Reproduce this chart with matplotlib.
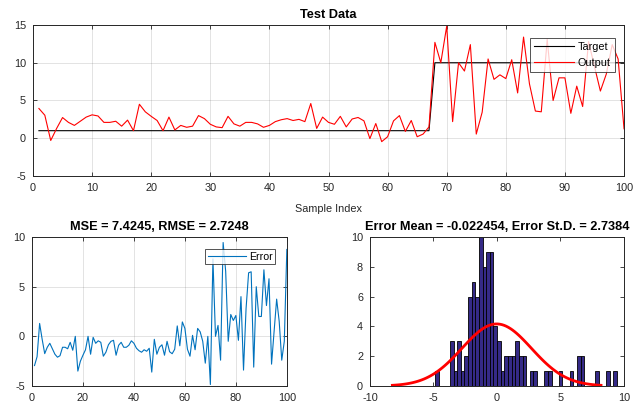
import numpy as np
import matplotlib
matplotlib.use("Agg")
import matplotlib.pyplot as plt

# sample index, network target and output
sample_idx = np.arange(1, 101)
target = [1.0] * 67 + [10.0] * 33
output = [3.94, 3.05, -0.3, 1.3, 2.74, 2.1, 1.7, 2.25, 2.8, 3.1,
          2.95, 2.1, 2.1, 2.25, 1.6, 2.4, 1.0, 4.5, 3.5, 2.9,
          2.35, 1.0, 2.8, 1.1, 1.7, 1.45, 1.6, 3.0, 2.6, 1.85,
          1.5, 1.4, 2.9, 1.9, 1.6, 2.1, 2.1, 1.9, 1.45, 1.7,
          2.2, 2.45, 2.6, 2.35, 2.5, 2.2, 4.6, 1.3, 2.8, 2.1,
          1.85, 2.9, 1.5, 2.55, 2.75, 2.3, -0.05, 1.95, -0.45, 0.2,
          2.3, 3.0, 0.9, 2.35, 0.2, 0.55, 1.5, 12.7, 10.0, 14.85,
          2.2, 10.0, 8.9, 12.4, 0.55, 3.45, 10.5, 7.8, 8.4, 7.9,
          10.4, 6.0, 13.4, 7.2, 3.6, 3.5, 13.1, 5.0, 8.0, 8.0,
          3.3, 6.9, 4.2, 12.8, 9.5, 6.25, 8.5, 12.4, 10.5, 1.25]

# histogram counts (50 bins between min and max error)
hist_counts = [1, 0, 0, 0, 3, 1, 3, 1, 2, 6,
               7, 6, 10, 8, 9, 9, 4, 3, 1, 2,
               2, 2, 3, 2, 2, 0, 1, 1, 0, 0,
               1, 1, 0, 0, 1, 0, 0, 1, 0, 2,
               2, 0, 0, 0, 1, 0, 0, 1, 0, 1]

mse_txt = 'MSE = 7.4245, RMSE = 2.7248'
err_mean = -0.022454
err_std = 2.7384

plt.rcParams['font.family'] = ['Liberation Sans', 'DejaVu Sans']
plt.rcParams['font.size'] = 7.6
plt.rcParams['axes.unicode_minus'] = False

axis_col = '#262626'
blue = (0, 0.447, 0.741)
parula1 = (0.2081, 0.1663, 0.5292)
title_fs = 9.2
tick_fs = 7.8

target = np.array(target)
output = np.array(output)
errors = target - output


def matlab_axes(ax, grid=True):
    if grid:
        ax.grid(True, color='#262626', alpha=0.15, linewidth=0.6)
    ax.set_axisbelow(True)
    ax.tick_params(direction='in', top=True, right=True, length=3,
                   width=0.6, colors=axis_col, labelsize=tick_fs, pad=5)
    for sp in ax.spines.values():
        sp.set_color(axis_col)
        sp.set_linewidth(0.7)


fig = plt.figure(figsize=(6.42, 4.07), dpi=100)

# top: target vs output
ax1 = fig.add_axes([0.0514, 0.5676, 0.9206, 0.371])
ax1.plot(sample_idx, target, color='k', linewidth=0.8, label='Target')
ax1.plot(sample_idx, output, color='r', linewidth=0.8, label='Output')
ax1.set_xlim(0, 100)
ax1.set_ylim(-5, 15)
ax1.set_xticks(np.arange(0, 101, 10))
ax1.set_yticks(np.arange(-5, 16, 5))
ax1.set_title('Test Data', fontweight='bold', fontsize=title_fs, pad=5)
ax1.set_xlabel('Sample Index', fontsize=7.8, color=axis_col, labelpad=8)
matlab_axes(ax1)
leg1 = ax1.legend(loc='upper right', bbox_to_anchor=(0.9845, 0.915),
                  fancybox=False, edgecolor=axis_col, fontsize=7.8,
                  handlelength=3.7, borderpad=0.4, labelspacing=0.5,
                  handletextpad=0.3, borderaxespad=0)
leg1.get_frame().set_linewidth(0.7)

# bottom left: error series
ax2 = fig.add_axes([0.0498, 0.0516, 0.397, 0.366])
ax2.plot(sample_idx, errors, color=blue, linewidth=0.8, label='Error')
ax2.set_xlim(0, 100)
ax2.set_ylim(-5, 10)
ax2.set_xticks(np.arange(0, 101, 20))
ax2.set_yticks([-5, 0, 5, 10])
ax2.set_title(mse_txt, fontweight='bold', fontsize=title_fs, pad=5)
matlab_axes(ax2)
leg2 = ax2.legend(loc='upper right', bbox_to_anchor=(0.955, 0.92),
                  fancybox=False, edgecolor=axis_col, fontsize=7.6,
                  handlelength=3.6, borderpad=0.25, handletextpad=0.3,
                  borderaxespad=0)
leg2.get_frame().set_linewidth(0.7)

# bottom right: error histogram with normal fit
ax3 = fig.add_axes([0.5763, 0.0516, 0.3956, 0.366])
edges = np.linspace(errors.min(), errors.max(), len(hist_counts) + 1)
bw = edges[1] - edges[0]
ax3.bar(edges[:-1], hist_counts, width=bw, align='edge', color=parula1,
        edgecolor='k', linewidth=0.6)
xs = np.linspace(err_mean - 3 * err_std, err_mean + 3 * err_std, 100)
pdf = np.exp(-0.5 * ((xs - err_mean) / err_std) ** 2) / (err_std * np.sqrt(2 * np.pi))
ax3.plot(xs, len(errors) * bw * pdf, color='r', linewidth=2)
ax3.set_xlim(-10, 10)
ax3.set_ylim(0, 10)
ax3.set_xticks(np.arange(-10, 11, 5))
ax3.set_yticks(np.arange(0, 11, 2))
ax3.set_title('Error Mean = %g, Error St.D. = %g' % (err_mean, err_std),
              fontweight='bold', fontsize=title_fs, pad=5)
matlab_axes(ax3, grid=False)

fig.savefig('out.png', dpi=100)
